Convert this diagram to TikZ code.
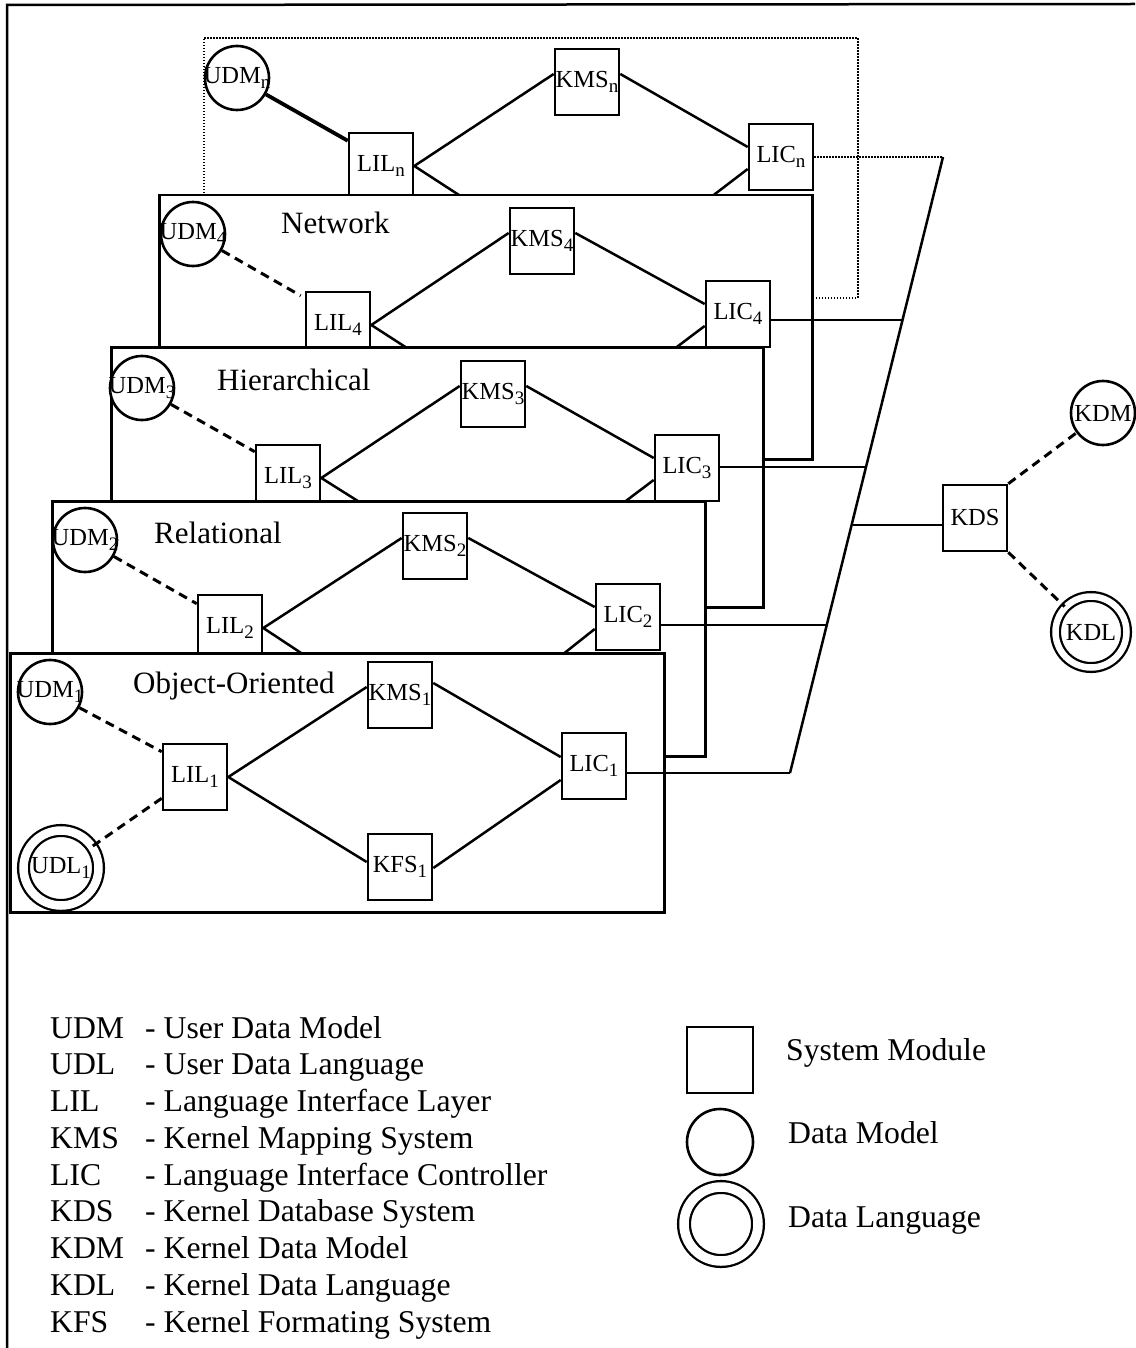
\documentclass[tikz,border=0pt]{standalone}
\usepackage{fontspec}
\setmainfont{Liberation Serif}
\newcommand\sbs[1]{\raisebox{-0.4ex}{\fontsize{19}{21}\selectfont #1}}
\begin{document}
\begin{tikzpicture}[x=1pt,y=-1pt,
  lw/.style={line width=2.5pt},
  layer/.style={draw, fill=white, line width=2.5pt, anchor=north west, inner sep=0pt},
  dotbox/.style={draw, fill=white, line width=1.6pt, dash pattern=on 1.5pt off 1.5pt, anchor=north west, inner sep=0pt},
  dotline/.style={line width=1.6pt, dash pattern=on 1.5pt off 1.5pt},
  mod/.style={draw, fill=white, line width=2.6pt, rectangle, minimum width=64pt, minimum height=66pt, inner sep=0pt, font=\fontsize{24.5}{28}\selectfont},
  lbl/.style={font=\fontsize{24.5}{28}\selectfont, inner sep=0pt},
  dm/.style={draw, circle, line width=2.6pt, minimum size=64pt, inner sep=0pt, fill=white, label={[lbl]center:#1}},
  dm/.default={},
  dl/.style={draw, circle, double, line width=2.3pt, inner sep=0pt, fill=white, label={[lbl]center:#1}},
  dl/.default={},
  conn/.style={line width=2.5pt},
  dsh/.style={line width=3pt, dash pattern=on 9pt off 6pt},
  title/.style={font=\fontsize{31}{36}\selectfont, inner sep=0pt, anchor=base west},
  leg/.style={font=\fontsize{31.7}{36}\selectfont, inner sep=0pt, anchor=base west}
]
\useasboundingbox (0,0) rectangle (1135,1348);

% diagonal bus coordinates
\coordinate (dtop) at (943,157);
\coordinate (dbot) at (790,773);
\coordinate (e4) at (903,320);
\coordinate (e3) at (866,467);
\coordinate (ek) at (853,525);
\coordinate (e2) at (827,625);

% outer frame
\coordinate (fbl) at (7,1348);
\coordinate (ftl) at (7,5);
\coordinate (ftr) at (1135,4);
\draw[lw] (fbl) -- (ftl) -- (ftr);

% ---------- layer n ----------
\node[dotbox, minimum width=654pt, minimum height=260pt] (boxn) at (203,37) {};
\node[dm={UDM\sbs{n}}] (udmn) at (237,78) {};
\node[mod] (liln) at (381,166) {LIL\sbs{n}};
\node[mod] (kmsn) at (587,82) {KMS\sbs{n}};
\node[mod] (licn) at (781,157) {LIC\sbs{n}};
\coordinate (kfsnw) at (562,262);
\coordinate (kfsne) at (626,262);
\draw[line width=3.8pt] (udmn) -- ([yshift=-9pt]liln.north west);
\draw[conn] (liln.east) -- ([yshift=8pt]kmsn.west);
\draw[conn] (liln.east) -- (kfsnw);
\draw[conn] ([yshift=8pt]kmsn.east) -- ([yshift=10pt]licn.west);
\draw[conn] ([yshift=-12pt]licn.west) -- (kfsne);
\draw[dotline] (licn.east) -- (dtop);

% ---------- layer 4 : Network ----------
\node[layer, minimum width=653pt, minimum height=264pt] (box4) at (158,194) {};
\node[title] (t4) at (281,234) {Network};
\node[dm={UDM\sbs{4}}] (udm4) at (193,234) {};
\node[mod] (lil4) at (338,325) {LIL\sbs{4}};
\node[mod] (kms4) at (542,241) {KMS\sbs{4}};
\node[mod] (lic4) at (738,314) {LIC\sbs{4}};
\coordinate (kfs4w) at (517,419);
\coordinate (kfs4e) at (581,419);
\draw[dsh] (udm4) -- ([xshift=-4pt,yshift=-5pt]lil4.north west);
\draw[conn] (lil4.east) -- ([yshift=8pt]kms4.west);
\draw[conn] (lil4.east) -- (kfs4w);
\draw[conn] ([yshift=8pt]kms4.east) -- ([yshift=10pt]lic4.west);
\draw[conn] ([yshift=-12pt]lic4.west) -- (kfs4e);
\draw[conn] (lic4.east |- e4) -- (e4);

% ---------- layer 3 : Hierarchical ----------
\node[layer, minimum width=652pt, minimum height=260pt] (box3) at (110,346) {};
\node[title] (t3) at (217,390) {Hierarchical};
\node[dm={UDM\sbs{3}}] (udm3) at (142,388) {};
\node[mod] (lil3) at (288,478) {LIL\sbs{3}};
\node[mod] (kms3) at (493,394) {KMS\sbs{3}};
\node[mod] (lic3) at (687,468) {LIC\sbs{3}};
\coordinate (kfs3w) at (469,571);
\coordinate (kfs3e) at (533,571);
\draw[dsh] (udm3) -- ([yshift=-8pt]lil3.north west);
\draw[conn] (lil3.east) -- ([yshift=8pt]kms3.west);
\draw[conn] (lil3.east) -- (kfs3w);
\draw[conn] ([yshift=8pt]kms3.east) -- ([yshift=10pt]lic3.west);
\draw[conn] ([yshift=-12pt]lic3.west) -- (kfs3e);
\draw[conn] (lic3.east |- e3) -- (e3);

% ---------- layer 2 : Relational ----------
\node[layer, minimum width=653pt, minimum height=255pt] (box2) at (51,500) {};
\node[title] (t2) at (154,543) {Relational};
\node[dm={UDM\sbs{2}}] (udm2) at (85,540) {};
\node[mod] (lil2) at (230,628) {LIL\sbs{2}};
\node[mod] (kms2) at (435,546) {KMS\sbs{2}};
\node[mod] (lic2) at (628,617) {LIC\sbs{2}};
\coordinate (kfs2w) at (410,725);
\coordinate (kfs2e) at (474,725);
\draw[dsh] (udm2) -- ([yshift=-10pt]lil2.north west);
\draw[conn] (lil2.east) -- ([yshift=8pt]kms2.west);
\draw[conn] (lil2.east) -- (kfs2w);
\draw[conn] ([yshift=8pt]kms2.east) -- ([yshift=10pt]lic2.west);
\draw[conn] ([yshift=-12pt]lic2.west) -- (kfs2e);
\draw[conn] (lic2.east |- e2) -- (e2);

% ---------- layer 1 : Object-Oriented ----------
\node[layer, minimum width=654pt, minimum height=259pt] (box1) at (9,652) {};
\node[title] (t1) at (133,693) {Object-Oriented};
\node[dm={UDM\sbs{1}}] (udm1) at (50,692) {};
\node[dl={UDL\sbs{1}}, minimum size=75pt, double distance=8.5pt] (udl1) at (61,868) {};
\node[mod] (lil1) at (195,777) {LIL\sbs{1}};
\node[mod] (kms1) at (400,695) {KMS\sbs{1}};
\node[mod] (lic1) at (594,766) {LIC\sbs{1}};
\node[mod] (kfs1) at (400,867) {KFS\sbs{1}};
\draw[dsh] (udm1) -- ([yshift=-9pt]lil1.north west);
\draw[dsh] (udl1) -- ([yshift=13pt]lil1.south west);
\draw[conn] (lil1.east) -- ([yshift=8pt]kms1.west);
\draw[conn] (lil1.east) -- ([yshift=5pt]kfs1.west);
\draw[conn] ([yshift=12pt]kms1.east) -- ([yshift=9pt]lic1.west);
\draw[conn] ([yshift=-1pt]kfs1.east) -- ([yshift=-14pt]lic1.west);
\draw[conn] (lic1.east |- dbot) -- (dbot);

% ---------- bus and kernel ----------
\draw[lw] (dtop) -- (dbot);
\node[mod] (kds) at (975,518) {KDS};
\node[dm={KDM}] (kdm) at (1103,413) {};
\node[dl={KDL}, minimum size=71pt, double distance=6.5pt] (kdl) at (1091,632) {};
\draw[conn] (ek) -- (kds.west |- ek);
\draw[dsh] (kds.north east) -- (kdm);
\draw[dsh] (kds.south east) -- (kdl);

% ---------- legend ----------
\foreach \ab/\de [count=\i from 0] in {UDM/User Data Model, UDL/User Data Language, LIL/Language Interface Layer, KMS/Kernel Mapping System, LIC/Language Interface Controller, KDS/Kernel Database System, KDM/Kernel Data Model, KDL/Kernel Data Language, KFS/Kernel Formating System}{
  \node[leg] (ab\i) at (50,{1038+36.75*\i}) {\ab};
  \node[leg] (de\i) at (145,{1038+36.75*\i}) {- \de};
}
\node[mod, minimum width=66pt, minimum height=66pt] (legsq) at (720,1060) {};
\node[dm, minimum size=66pt] (legdm) at (720,1142) {};
\node[dl, minimum size=74pt, double distance=9.5pt] (legdl) at (721,1224) {};
\node[leg] (legt1) at (786,1060) {System Module};
\node[leg] (legt2) at (788,1143) {Data Model};
\node[leg] (legt3) at (788,1227) {Data Language};
\end{tikzpicture}
\end{document}
